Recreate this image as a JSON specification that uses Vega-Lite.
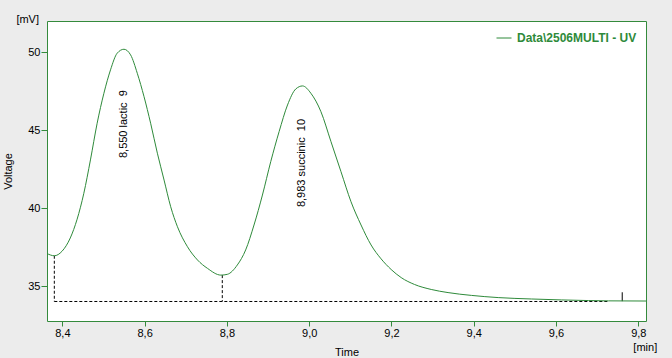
{
  "$schema": "https://vega.github.io/schema/vega-lite/v6.json",
  "width": 599,
  "height": 300,
  "autosize": {"type": "none"},
  "padding": {"left": 47, "top": 21, "right": 26, "bottom": 37},
  "background": "#ececec",
  "config": {
    "view": {"fill": "#ffffff", "stroke": "#348a3c", "strokeWidth": 1},
    "font": "Liberation Sans",
    "axis": {
      "grid": false,
      "domain": false,
      "tickColor": "#348a3c",
      "labelColor": "#000000",
      "labelFont": "Liberation Sans",
      "labelFontSize": 11,
      "titleFont": "Liberation Sans",
      "titleFontSize": 11,
      "titleFontWeight": "normal",
      "titleColor": "#000000"
    }
  },
  "datasets": {
    "curve": [
      {"t": 8.3627, "v": 37.10}, {"t": 8.3805, "v": 36.96}, {"t": 8.3993, "v": 37.25}, {"t": 8.4193, "v": 38.10},
      {"t": 8.4359, "v": 39.30}, {"t": 8.4522, "v": 40.96}, {"t": 8.4683, "v": 43.10}, {"t": 8.4846, "v": 45.45},
      {"t": 8.5010, "v": 47.37}, {"t": 8.5171, "v": 48.87}, {"t": 8.5334, "v": 49.94}, {"t": 8.5498, "v": 50.19},
      {"t": 8.5659, "v": 49.83}, {"t": 8.5822, "v": 48.65}, {"t": 8.5986, "v": 47.15}, {"t": 8.6146, "v": 45.45},
      {"t": 8.6310, "v": 43.53}, {"t": 8.6473, "v": 41.81}, {"t": 8.6634, "v": 40.10}, {"t": 8.6798, "v": 38.82},
      {"t": 8.7041, "v": 37.54}, {"t": 8.7285, "v": 36.69}, {"t": 8.7529, "v": 36.15}, {"t": 8.7854, "v": 35.72},
      {"t": 8.8010, "v": 35.77}, {"t": 8.8254, "v": 36.37}, {"t": 8.8456, "v": 37.33}, {"t": 8.8659, "v": 38.93},
      {"t": 8.8864, "v": 40.85}, {"t": 8.9066, "v": 42.99}, {"t": 8.9269, "v": 44.91}, {"t": 8.9474, "v": 46.62},
      {"t": 8.9676, "v": 47.65}, {"t": 8.9839, "v": 47.84}, {"t": 9.0042, "v": 47.37}, {"t": 9.0286, "v": 46.19},
      {"t": 9.0530, "v": 44.27}, {"t": 9.0773, "v": 42.35}, {"t": 9.1017, "v": 40.42}, {"t": 9.1261, "v": 38.93},
      {"t": 9.1505, "v": 37.65}, {"t": 9.1749, "v": 36.76}, {"t": 9.1993, "v": 36.08}, {"t": 9.2237, "v": 35.56},
      {"t": 9.2561, "v": 35.12}, {"t": 9.2968, "v": 34.80}, {"t": 9.3376, "v": 34.60}, {"t": 9.3944, "v": 34.42},
      {"t": 9.4595, "v": 34.28}, {"t": 9.5407, "v": 34.19}, {"t": 9.6139, "v": 34.13}, {"t": 9.6790, "v": 34.09},
      {"t": 9.7278, "v": 34.07}, {"t": 9.8188, "v": 34.06}
    ],
    "peaks": [
      {"t": 8.55, "v": 43.22, "label": "8,550 lactic\u00a0\u00a09"},
      {"t": 8.983, "v": 40.08, "label": "8,983 succinic\u00a0\u00a010"}
    ],
    "dropLines": [
      {"t": 8.3805, "v": 36.96, "v2": 34.03},
      {"t": 8.7888, "v": 35.72, "v2": 34.03}
    ],
    "endMark": [
      {"t": 9.761, "v": 34.62, "v2": 34.05}
    ],
    "baseline": [
      {"t": 8.3805, "t2": 9.726, "v": 34.03}
    ]
  },
  "encoding": {
    "x": {
      "field": "t",
      "type": "quantitative",
      "scale": {"domain": [8.3627, 9.8188], "nice": false, "zero": false},
      "axis": {
        "title": "Time",
        "values": [8.4, 8.6, 8.8, 9.0, 9.2, 9.4, 9.6, 9.8],
        "labelExpr": "replace(format(datum.value, '.1f'), '.', ',')",
        "tickSize": 5,
        "labelPadding": 1,
        "labelFlush": false,
        "labelOverlap": false,
        "titleY": 34,
        "titleBaseline": "alphabetic"
      }
    },
    "y": {
      "field": "v",
      "type": "quantitative",
      "scale": {"domain": [32.78, 52.0], "nice": false, "zero": false},
      "axis": {
        "title": "Voltage",
        "values": [35, 40, 45, 50],
        "format": "d",
        "tickSize": 6,
        "labelPadding": 1,
        "titleX": -34,
        "titleY": 150,
        "titleAngle": 270,
        "titleBaseline": "bottom",
        "titleAlign": "center"
      }
    }
  },
  "layer": [
    {
      "data": {"name": "baseline"},
      "mark": {"type": "rule", "color": "#000000", "strokeWidth": 1, "strokeDash": [3, 2]},
      "encoding": {"x2": {"field": "t2"}}
    },
    {
      "data": {"name": "dropLines"},
      "mark": {"type": "rule", "color": "#000000", "strokeWidth": 1, "strokeDash": [3, 2]},
      "encoding": {"y2": {"field": "v2"}}
    },
    {
      "data": {"name": "endMark"},
      "mark": {"type": "rule", "color": "#000000", "strokeWidth": 1},
      "encoding": {"y2": {"field": "v2"}}
    },
    {
      "data": {"name": "curve"},
      "mark": {"type": "line", "strokeWidth": 1, "interpolate": "monotone"},
      "encoding": {
        "color": {
          "datum": "Data\\2506MULTI - UV",
          "scale": {"range": ["#2e8a3a"]},
          "legend": {
            "title": null,
            "orient": "top-right",
            "offset": 9,
            "padding": 0,
            "symbolType": "stroke",
            "symbolSize": 225,
            "symbolStrokeWidth": 1,
            "labelOffset": 5,
            "labelFont": "Liberation Sans",
            "labelFontSize": 12,
            "labelFontWeight": "bold",
            "labelColor": "#2e8a3a"
          }
        }
      }
    },
    {
      "data": {"name": "peaks"},
      "mark": {"type": "text", "angle": 270, "align": "left", "baseline": "middle", "font": "Liberation Sans", "fontSize": 11, "color": "#000000"},
      "encoding": {"text": {"field": "label"}}
    },
    {
      "data": {"values": [{"t": 8.3627, "v": 52.0, "label": "[mV]"}]},
      "mark": {"type": "text", "align": "right", "baseline": "alphabetic", "dx": -8, "dy": 2, "font": "Liberation Sans", "fontSize": 11, "color": "#000000", "clip": false},
      "encoding": {"text": {"field": "label"}}
    },
    {
      "data": {"values": [{"t": 9.8, "v": 32.78, "label": "[min]"}]},
      "mark": {"type": "text", "align": "center", "baseline": "alphabetic", "dx": 7, "dy": 30, "font": "Liberation Sans", "fontSize": 11, "color": "#000000", "clip": false},
      "encoding": {"text": {"field": "label"}}
    }
  ]
}
